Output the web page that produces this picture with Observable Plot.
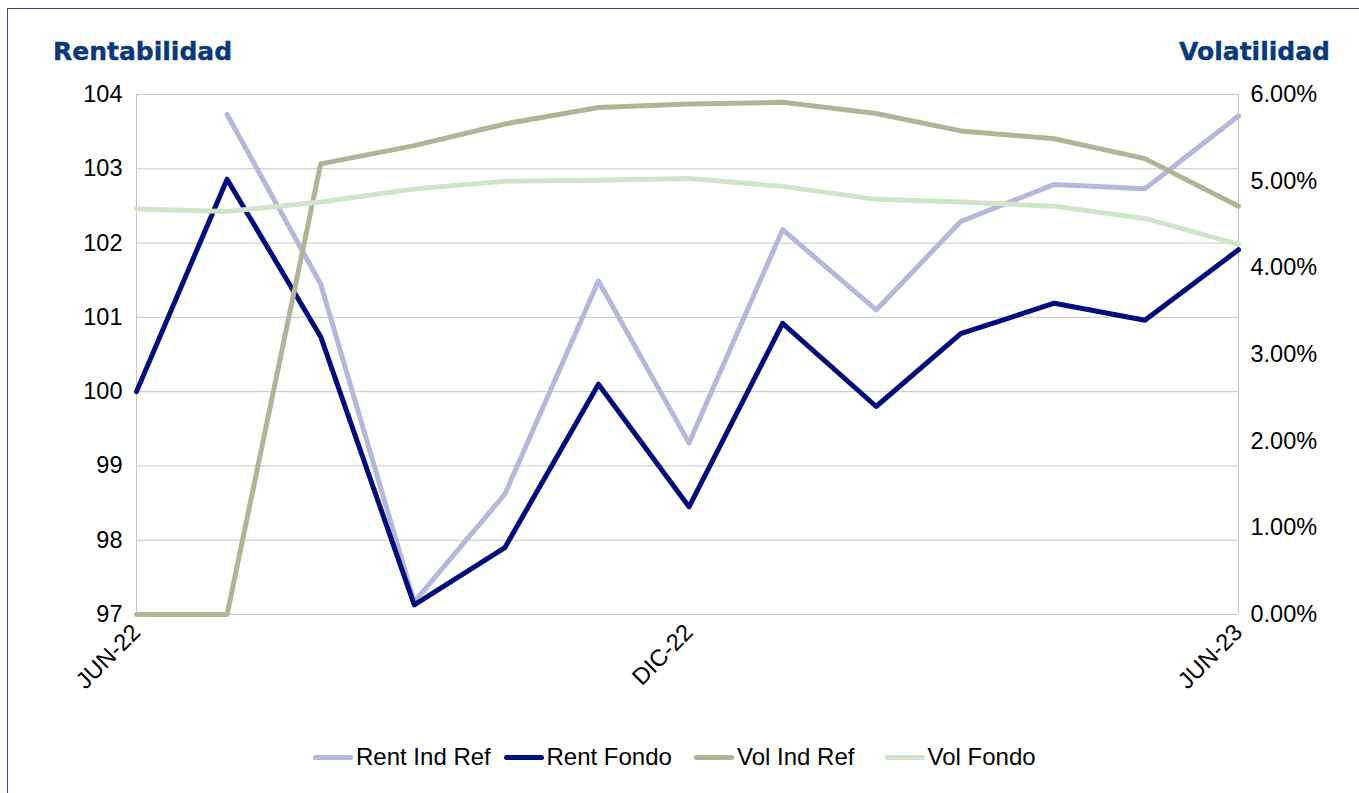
<!DOCTYPE html>
<html><head><meta charset="utf-8">
<script src="https://cdn.jsdelivr.net/npm/d3@7"></script>
<script src="https://cdn.jsdelivr.net/npm/@observablehq/plot@0.6"></script>
<style>
html,body{margin:0;padding:0;overflow:hidden;background:#fff;width:1359px;height:793px}
#wrap{position:relative;width:1359px;height:793px;overflow:hidden}
#box{position:absolute;left:7px;top:8px;width:1400px;height:900px;border:1.5px solid #34508c;box-sizing:border-box}
.ttl{position:absolute;font-family:"DejaVu Sans",Verdana,sans-serif;font-weight:bold;font-size:25px;color:#0a397a;line-height:1;white-space:nowrap;-webkit-text-stroke:0.4px #0a397a}
#legend{position:absolute;left:313px;top:744px;display:grid;grid-template-columns:repeat(4,190.5px);font-family:"Liberation Sans",Arial,sans-serif;font-size:24px;color:#000;line-height:26px}
.item{display:flex;align-items:center;gap:3px;white-space:nowrap}
.sw{width:40px;height:5px;border-radius:2.5px;flex:none}
#chart{position:absolute;left:0;top:0}
</style></head><body>
<div id="wrap"><div id="box"></div>
<div id="chart"></div>
<div class="ttl" style="left:53px;top:39px">Rentabilidad</div>
<div class="ttl" style="right:29px;top:39px">Volatilidad</div>
<div id="legend"></div>
</div>
<script>
const months = ["2022-06-01","2022-07-01","2022-08-01","2022-09-01","2022-10-01","2022-11-01","2022-12-01","2023-01-01","2023-02-01","2023-03-01","2023-04-01","2023-05-01","2023-06-01"];
const rentIndRef = [null, 103.73, 101.45, 97.17, 98.62, 101.49, 99.31, 102.18, 101.10, 102.29, 102.79, 102.73, 103.71];
const rentFondo  = [100.00, 102.86, 100.74, 97.13, 97.90, 100.10, 98.45, 100.92, 99.80, 100.78, 101.19, 100.96, 101.91];
const volIndRef  = [0.00, 0.00, 5.20, 5.41, 5.66, 5.85, 5.89, 5.91, 5.78, 5.58, 5.49, 5.26, 4.71];
const volFondo   = [4.68, 4.65, 4.76, 4.91, 5.00, 5.01, 5.03, 4.94, 4.79, 4.76, 4.71, 4.57, 4.27];
const seriesNames = ["Rent Ind Ref","Rent Fondo","Vol Ind Ref","Vol Fondo"];
const seriesColors = ["#b4b9da","#000d7a","#b1b497","#d0e4c9"];
const leftTicks = [97,98,99,100,101,102,103,104];
const rightTicks = [0,1,2,3,4,5,6];
const xTickDates = ["2022-06-01","2022-12-01","2023-06-01"];
const xTickLabels = ["JUN-22","DIC-22","JUN-23"];

const yMin = 97, yMax = 104, vMin = 0, vMax = 6;
const toLeft = v => yMin + (v - vMin) * (yMax - yMin) / (vMax - vMin);
const fromLeft = y => vMin + (y - yMin) * (vMax - vMin) / (yMax - yMin);

const rows = [];
const add = (name, arr, conv) => months.forEach((m, i) => {
  rows.push({series: name, date: new Date(m), y: arr[i] == null ? NaN : conv(arr[i])});
});
add("Rent Ind Ref", rentIndRef, v => v);
add("Rent Fondo", rentFondo, v => v);
add("Vol Ind Ref", volIndRef, toLeft);
add("Vol Fondo", volFondo, toLeft);

const tickDates = xTickDates.map(d => new Date(d));
const first = new Date(months[0]), last = new Date(months[months.length - 1]);

const plot = Plot.plot({
  width: 1359, height: 793,
  marginLeft: 136, marginRight: 121, marginTop: 94, marginBottom: 179,
  style: {fontFamily: "Liberation Sans, Arial, sans-serif", fontSize: "23.5px", color: "#000", background: "transparent", overflow: "visible"},
  x: {type: "utc", domain: [first, last]},
  y: {domain: [yMin, yMax]},
  color: {domain: seriesNames, range: seriesColors},
  marks: [
    Plot.gridY(leftTicks, {stroke: "#c6c6c6", strokeOpacity: 1, strokeWidth: 1}),
    Plot.ruleX([first, last], {stroke: "#c6c6c6", strokeWidth: 1}),
    Plot.lineY(rows, {x: "date", y: "y", z: "series", stroke: "series", strokeWidth: 5, strokeLinecap: "round", strokeLinejoin: "round"}),
    Plot.axisY(leftTicks, {anchor: "left", tickSize: 0, tickPadding: 14, label: null, tickFormat: d => String(d)}),
    Plot.axisY(rightTicks.map(toLeft), {anchor: "right", tickSize: 0, tickPadding: 12, label: null, tickFormat: d => fromLeft(d).toFixed(2) + "%"}),
    Plot.axisX(tickDates, {anchor: "bottom", tickSize: 0, tickPadding: 14, tickRotate: -45, label: null,
      tickFormat: d => xTickLabels[tickDates.findIndex(t => +t === +d)]})
  ]
});
document.getElementById("chart").appendChild(plot);

const legend = document.getElementById("legend");
seriesNames.forEach((n, i) => {
  const it = document.createElement("div"); it.className = "item";
  const sw = document.createElement("span"); sw.className = "sw"; sw.style.background = seriesColors[i];
  const tx = document.createElement("span"); tx.textContent = n;
  it.appendChild(sw); it.appendChild(tx); legend.appendChild(it);
});
</script>
</body></html>
